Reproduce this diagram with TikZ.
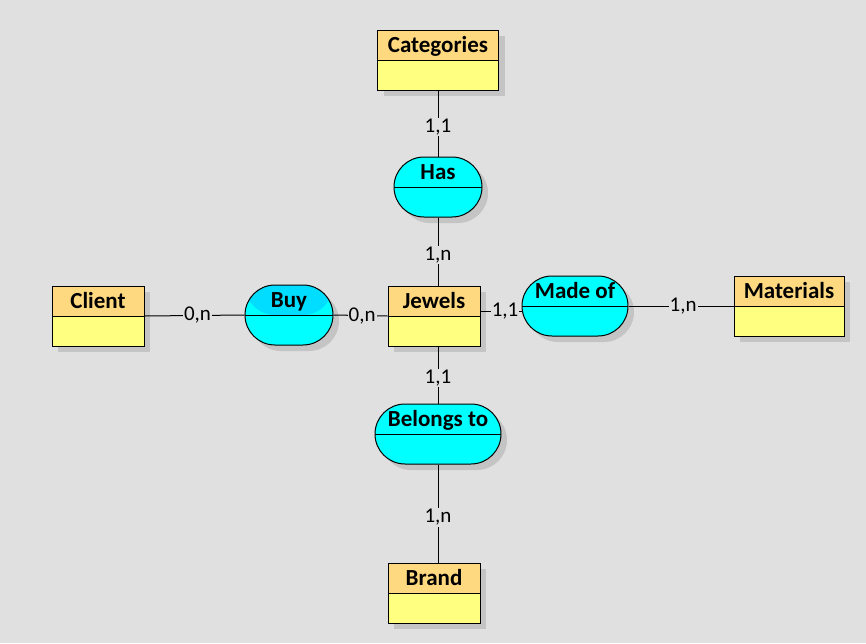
\documentclass[tikz,border=0pt]{standalone}
\usepackage{fontspec}
\setmainfont{Carlito}
\usetikzlibrary{calc,shadows}
\definecolor{bgcol}{RGB}{224,224,224}
\definecolor{headcol}{RGB}{255,217,128}
\definecolor{bodycol}{RGB}{255,255,128}
\definecolor{relcol}{RGB}{0,255,255}
\definecolor{selcol}{RGB}{0,221,255}
\definecolor{shadecol}{RGB}{196,196,196}

\begin{document}
\begin{tikzpicture}[x=1pt,y=-1pt,line width=1pt,
	box/.style={draw,inner sep=0pt,minimum width=#1,text height=22pt,text depth=38pt,
		font=\fontsize{23}{26}\selectfont\bfseries,
		drop shadow={shadow xshift=6pt,shadow yshift=-6pt,fill=shadecol,opacity=1}},
	entity/.style={box=#1,fill=bodycol,
		path picture={\fill[headcol] (path picture bounding box.north west) rectangle (path picture bounding box.east);
			\draw (path picture bounding box.west)--(path picture bounding box.east);}},
	reltop/.style={fill=relcol},
	relation/.style={box=#1,fill=relcol,rounded corners=30pt,
		path picture={\path[reltop] (path picture bounding box.north west) rectangle (path picture bounding box.east);
			\draw (path picture bounding box.west)--(path picture bounding box.east);}},
	card/.style={fill=bgcol,inner sep=1pt,font=\fontsize{21}{23}\selectfont}]
\useasboundingbox (0,0) rectangle (866,643);
\fill[bgcol] (0,0) rectangle (866,643);

% entities
\node[entity=121pt] (cat) at (438,60) {Categories};
\node[entity=92pt] (jewels) at (434,316) {Jewels};
\node[entity=92pt] (client) at (98,316) {Client};
\node[entity=110pt] (mat) at (789,306) {Materials};
\node[entity=92pt] (brand) at (434,593) {Brand};

% relations
\node[relation=88pt] (has) at (438,187) {Has};
\node[relation=88pt,reltop/.style={fill=selcol}] (buy) at (289,315) {Buy};
\node[relation=106pt] (made) at (575,306) {Made of};
\node[relation=126pt] (bel) at (438,434) {Belongs to};

% links
\draw (cat.south)--node[card,pos=0.55]{1,1}(has.north);
\draw (has.south)--node[card,pos=0.55]{1,n}(has.south |- jewels.north);
\draw (bel.north |- jewels.south)--node[card,pos=0.55]{1,1}(bel.north);
\draw (bel.south)--node[card,pos=0.54]{1,n}(bel.south |- brand.north);
\draw (client.east)--node[card,pos=0.53]{0,n}(buy.west);
\draw (buy.east)--node[card,pos=0.53]{0,n}(jewels.west);
\draw ([yshift=5pt]jewels.east)--node[card,pos=0.6]{1,1}([yshift=5pt]jewels.east -| made.west);
\draw (made.east)--node[card,pos=0.52]{1,n}(mat.west);
\end{tikzpicture}
\end{document}
